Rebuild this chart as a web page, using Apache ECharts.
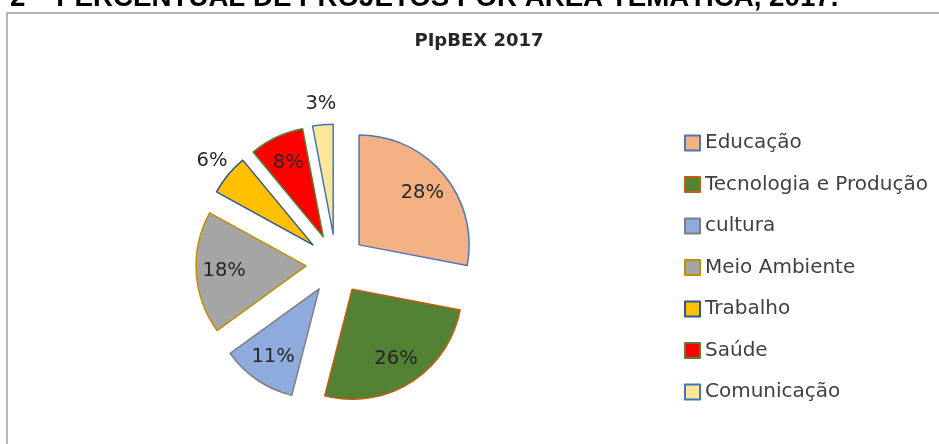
<!DOCTYPE html>
<html>
<head>
<meta charset="utf-8">
<script src="https://cdn.jsdelivr.net/npm/echarts@6/dist/echarts.min.js"></script>
<style>
html,body{margin:0;padding:0;background:#fff;}
#chart{width:939px;height:444px;}
</style>
</head>
<body>
<div id="chart"></div>
<script>
// ---- data ----
var categories = ['Educação', 'Tecnologia e Produção', 'cultura', 'Meio Ambiente', 'Trabalho', 'Saúde', 'Comunicação'];
var values = [28, 26, 11, 18, 6, 8, 3];
var outsideLabelCats = ['Trabalho', 'Comunicação'];
var chartTitle = 'PIpBEX 2017';
var pageHeading = '2 – PERCENTUAL DE PROJETOS POR ÁREA TEMÁTICA, 2017.';

// ---- palette ----
var fillColors = ['#F4B183', '#548235', '#8FAADC', '#A5A5A5', '#FFC000', '#FF0000', '#FFE699'];
var borderColors = ['#4F76B8', '#C55A11', '#7F7F7F', '#BF9000', '#2F5597', '#548235', '#3E78B8'];

var CENTER = [336, 264];
var OFFSET = 30;

function mainData() {
  return categories.map(function (c, i) {
    var st = { color: fillColors[i], borderColor: borderColors[i], borderWidth: 1.5 };
    return { name: c, value: values[i], selected: true, itemStyle: st, select: { itemStyle: st } };
  });
}
function overlayData(showFn) {
  return categories.map(function (c, i) {
    var st = { color: 'rgba(0,0,0,0)', borderWidth: 0 };
    return {
      name: c, value: values[i], selected: true,
      itemStyle: st, select: { itemStyle: st },
      label: { show: showFn(c) }
    };
  });
}
var labelStyle = {
  position: 'inside',
  formatter: '{c}%',
  color: '#262626',
  fontFamily: 'DejaVu Sans',
  fontSize: 19.5
};

var chart = echarts.init(document.getElementById('chart'), null, { renderer: 'canvas' });
chart.setOption({
  animation: false,
  backgroundColor: '#ffffff',
  graphic: [
    {
      type: 'rect', silent: true,
      shape: { x: 7, y: 13, width: 1000, height: 600 },
      style: { fill: 'none', stroke: '#9E9E9E', lineWidth: 1.5 }
    },
    {
      type: 'text', silent: true, x: 10, y: -15, scaleX: 1.025,
      style: {
        text: pageHeading, fill: '#000000',
        font: 'bold 27px "Liberation Sans", Arial, sans-serif',
        textAlign: 'left', verticalAlign: 'top'
      }
    },
    {
      type: 'text', silent: true, x: 479, y: 41,
      style: {
        text: chartTitle, fill: '#262626',
        font: 'bold 18px "DejaVu Sans", sans-serif',
        textAlign: 'center', verticalAlign: 'middle'
      }
    }
  ],
  legend: {
    orient: 'vertical',
    left: 679,
    top: 128,
    itemWidth: 15,
    itemHeight: 15,
    itemGap: 21.5,
    icon: 'rect',
    data: categories,
    selectedMode: false,
    textStyle: { fontFamily: 'DejaVu Sans', fontSize: 20, color: '#404040', lineHeight: 20 }
  },
  series: [
    {
      type: 'pie', name: 'main',
      center: CENTER, radius: [0, 110],
      startAngle: 90, clockwise: true,
      selectedMode: 'multiple', selectedOffset: OFFSET,
      avoidLabelOverlap: false,
      label: { show: false }, labelLine: { show: false },
      emphasis: { disabled: true },
      data: mainData()
    },
    {
      type: 'pie', name: 'labelsIn', silent: true,
      center: CENTER, radius: [48, 110],
      startAngle: 90, clockwise: true,
      selectedMode: 'multiple', selectedOffset: OFFSET,
      avoidLabelOverlap: false,
      label: labelStyle, labelLine: { show: false },
      emphasis: { disabled: true },
      data: overlayData(function (c) { return outsideLabelCats.indexOf(c) < 0; })
    },
    {
      type: 'pie', name: 'labelsOut', silent: true,
      center: CENTER, radius: [118, 138],
      startAngle: 90, clockwise: true,
      selectedMode: 'multiple', selectedOffset: OFFSET,
      avoidLabelOverlap: false,
      label: labelStyle, labelLine: { show: false },
      emphasis: { disabled: true },
      data: overlayData(function (c) { return outsideLabelCats.indexOf(c) >= 0; })
    }
  ]
});
</script>
</body>
</html>
